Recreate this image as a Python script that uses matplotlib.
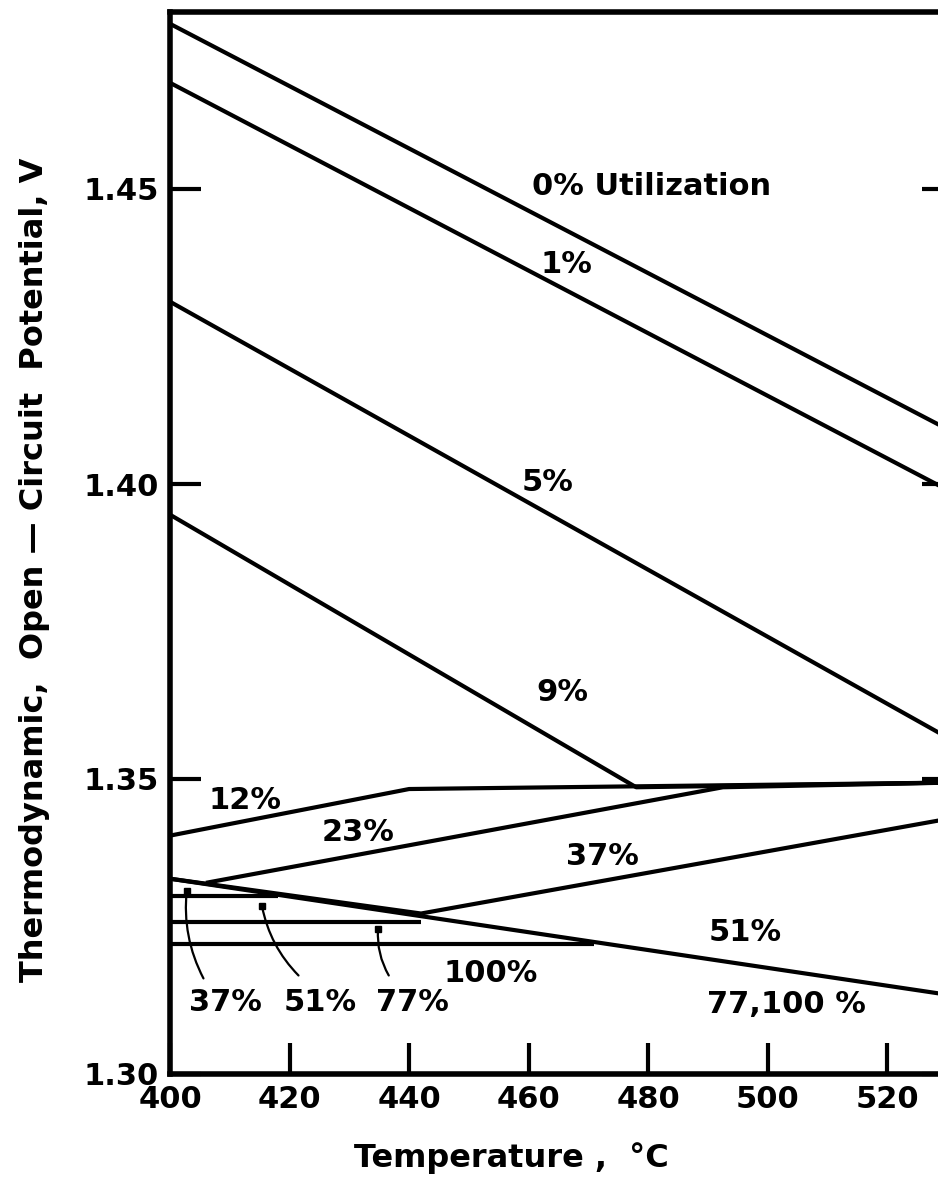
import matplotlib
matplotlib.use("Agg")
import matplotlib.pyplot as plt

# ---- data ----
u0_x = [400, 531];            u0_y = [1.478, 1.4088]
u1_x = [400, 531];            u1_y = [1.468, 1.3985]
u5_x = [400, 531];            u5_y = [1.4309, 1.3565]
u9_x = [400, 478, 531];       u9_y = [1.3948, 1.3486, 1.3494]
u12_x = [400, 440, 531];      u12_y = [1.3404, 1.3483, 1.3494]
u23_x = [406, 492.5, 531];    u23_y = [1.3324, 1.3486, 1.3494]
u37_x = [400, 442, 531];      u37_y = [1.3331, 1.3272, 1.3434]
bnd_x = [400, 531];           bnd_y = [1.3331, 1.3133]
h37_x = [400, 418];           h37_y = [1.3301, 1.3301]
h51_x = [400, 442];           h51_y = [1.3258, 1.3258]
h77_x = [400, 471];           h77_y = [1.3221, 1.3221]

xticks = [400, 420, 440, 460, 480, 500, 520]
yticks = [1.30, 1.35, 1.40, 1.45]
ytick_labels = ["1.30", "1.35", "1.40", "1.45"]

labels = [("0% Utilization", 480.6, 1.4505), ("1%", 466.4, 1.4372),
          ("5%", 463.2, 1.4003), ("9%", 465.6, 1.3647),
          ("12%", 412.5, 1.3463), ("23%", 431.4, 1.3409),
          ("37%", 472.4, 1.3368), ("51%", 496.2, 1.3240),
          ("77,100 %", 503.2, 1.3117), ("100%", 453.7, 1.3171)]

pointers = [("37%", 409.2, 1.3122, 405.6, 1.3162, 402.8, 1.3311),
            ("51%", 425.1, 1.3122, 421.5, 1.3167, 415.4, 1.3284),
            ("77%", 440.6, 1.3122, 436.6, 1.3167, 434.8, 1.3245)]

# ---- figure ----
W, H = 938, 1193
fig = plt.figure(figsize=(W / 100, H / 100), dpi=100)
left, bottom = 170 / W, (H - 1074) / H
ax = fig.add_axes([left, bottom, 783 / W, (1074 - 12) / H])
ax.set_xlim(400, 531)
ax.set_ylim(1.30, 1.48)

lw = 3.0
for xs, ys in [(u0_x, u0_y), (u1_x, u1_y), (u5_x, u5_y), (u9_x, u9_y),
               (u12_x, u12_y), (u23_x, u23_y), (u37_x, u37_y), (bnd_x, bnd_y),
               (h37_x, h37_y), (h51_x, h51_y), (h77_x, h77_y)]:
    ax.plot(xs, ys, color="black", lw=lw, solid_capstyle="butt")

font = dict(family="DejaVu Sans", weight="bold", color="black")
for t, x, y in labels:
    ax.text(x, y, t, ha="center", va="center", fontsize=22, **font)

for t, tx, ty, sx, sy, px, py in pointers:
    ax.text(tx, ty, t, ha="center", va="center", fontsize=22, **font)
    ax.annotate("", xy=(px, py), xytext=(sx, sy),
                arrowprops=dict(arrowstyle="-", color="black", lw=1.6,
                                connectionstyle="arc3,rad=-0.15",
                                shrinkA=0, shrinkB=0))
    ax.plot([px], [py], "s", color="black", ms=5)

for s in ax.spines.values():
    s.set_linewidth(4)
ax.set_xticks(xticks)
ax.set_xticklabels([str(v) for v in xticks])
ax.set_yticks(yticks)
ax.set_yticklabels(ytick_labels)
ax.tick_params(direction="in", length=22, width=3, labelsize=22,
               right=True, top=False, pad=8)
for lab in ax.get_xticklabels() + ax.get_yticklabels():
    lab.set_fontweight("bold")

fig.text(35 / W, 1 - 570 / H, "Thermodynamic,  Open \u2014 Circuit  Potential, V",
         rotation=90, ha="center", va="center", fontsize=23, **font)
fig.text(511 / W, 1 - 1158 / H, "Temperature ,  \u00b0C",
         ha="center", va="center", fontsize=23, **font)

fig.savefig("out.png", dpi=100)
